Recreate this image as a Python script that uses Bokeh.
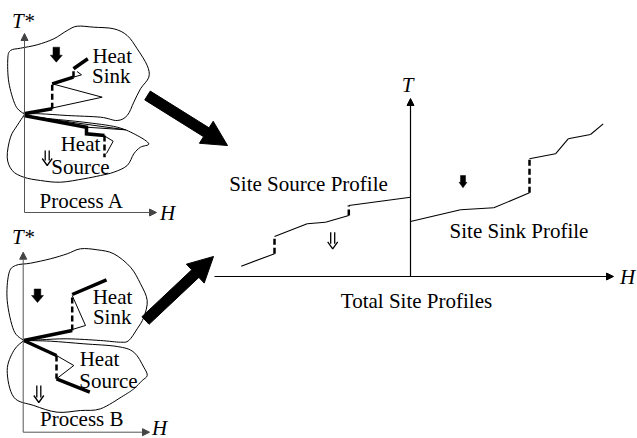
import numpy as np
from bokeh.plotting import figure
from bokeh.models import Range1d, Arrow, NormalHead
from bokeh.core.properties import value
from bokeh.embed import file_html
from bokeh.resources import INLINE

# ---------------- data (diagram coordinates, page pixels) ----------------
# Process A : heat sink / heat source outlines
blobA_sink = [(23.3, 113.3), (15, 105), (8.3, 81.7), (7.3, 58.3), (10, 50), (20, 47.7), (36.7, 44.3),
              (53.3, 38.3), (66.7, 30), (76.7, 25.7), (93.3, 26.7), (113.3, 28.3), (126.7, 35),
              (136.7, 48.3), (146.7, 65), (148.3, 76.7), (140, 88.3), (133.3, 101.7), (126.7, 115),
              (116.7, 120), (100, 116.7), (66.7, 115), (40, 113.3), (23.3, 113.3)]
blobA_src = [(23.3, 115), (50, 118.3), (83.3, 121.7), (116.7, 126.7), (136.7, 135), (148.3, 143.3),
             (140, 146.7), (133.3, 153.3), (126.7, 165), (113.3, 171.7), (100, 175), (83.3, 178.3),
             (60, 181.7), (40, 180), (23.3, 176.7), (11.7, 170), (6.7, 156.7), (10, 136.7),
             (16.7, 125), (23.3, 115)]
# Process B outlines
blobB_sink = [(23.3, 340), (13.3, 330), (6.7, 300), (8.3, 273.3), (15, 265), (30, 262.7), (50, 258.3),
              (66.7, 253.3), (80, 248.3), (96.7, 249.3), (113.3, 253.3), (130, 266.7), (140, 283.3),
              (146.7, 300), (143.3, 316.7), (136.7, 328.3), (128.3, 340), (120, 341.7), (100, 340),
              (66.7, 338.3), (40, 339.3), (23.3, 340)]
blobB_src = [(23.3, 340), (50, 340.7), (83.3, 343.3), (116.7, 346), (133.3, 351.7), (143.3, 366.7),
             (146.7, 375), (141.7, 380), (133.3, 388.3), (123.3, 395), (100, 408.3), (80, 410),
             (56.7, 411.7), (33.3, 405), (13.3, 396.7), (6.7, 370), (13.3, 350), (23.3, 340)]

# thick profile pieces
thick_x = [[23.3, 51.7], [51.7, 73, 73], [73, 87.3],
           [23.3, 86, 86, 104],
           [23.3, 71.7], [71.7, 106],
           [23.3, 56], [56, 89.3]]
thick_y = [[113.3, 108.3], [83.3, 76.7, 76.7], [68.3, 58.3],
           [115, 126.7, 133.3, 135],
           [340, 330], [294, 279.3],
           [340, 355], [378.3, 391.7]]
# dashed vertical steps (left)
dash_x = [[51.7, 51.7], [73, 73], [104, 104], [71.7, 71.7], [56, 56]]
dash_y = [[108.3, 83.3], [76.7, 68.3], [135, 156.7], [330, 294], [355, 378.3]]
# thin pocket lines (left)
thin_x = [[51.7, 101.7, 25], [73, 81, 76.5], [23.3, 125, 86], [104, 112.7, 106],
          [71.7, 85, 71.7], [56, 73.3, 56]]
thin_y = [[83.3, 96.7, 113.3], [76.7, 74.3, 71], [115, 129.3, 126.7], [135.5, 140.7, 153],
          [295, 325, 329], [355, 365, 378.3]]

# Total site profiles
src_x = [240.7, 274, 274, 306.7, 325, 348.3, 348.3, 410]
src_y = [265.7, 253.3, 236, 223.3, 221.7, 215, 205, 196.7]
snk_x = [410, 460, 493.3, 529, 529, 555, 567.7, 590, 602.7]
snk_y = [221, 209.3, 207.3, 192.3, 158.3, 153.3, 138.3, 134, 123.3]

# axes: (x_start, y_start, x_end, y_end)
axes_left = [(24, 212, 24, 33), (24, 212, 156, 212),
             (22.7, 431.7, 22.7, 251.7), (22.7, 431.7, 149, 431.7)]
axes_right = [(410, 276, 410, 98), (214, 276, 613, 276)]

# big arrows (tail -> tip)
big_tail = [(147, 95), (145, 320)]
big_tip = [(227, 145), (213, 256)]

# small block arrows: (cx, top, bottom, shaft half, head half, head len)
block_arrows = [(55.8, 46.7, 61.7, 3.3, 6, 7), (37, 288.5, 302, 3.3, 6, 7), (462.5, 175, 187.3, 2.5, 4, 5.5)]
# double arrows (cx, top, bottom)
dbl_arrows = [(46.7, 150, 165), (38.3, 385, 402), (332.2, 231.7, 248.3)]

labels_txt = ["Heat", "Sink", "Heat", "Source", "Process A",
              "Heat", "Sink", "Heat", "Source", "Process B",
              "Site Source Profile", "Site Sink Profile", "Total Site Profiles"]
labels_x = [111.7, 110.8, 80, 80, 81.3, 112, 111.7, 99, 108, 81.3, 308, 518.5, 416]
labels_y = [55, 75, 143.3, 166.7, 200, 296.7, 316.7, 358.3, 380, 418.3, 183, 230, 300]

ital_txt = ["T*", "H", "T*", "H", "T", "H"]
ital_x = [22.5, 167, 22.5, 159, 407, 627]
ital_y = [20, 212, 236, 427, 84, 276.7]

# ---------------- figure ----------------
p = figure(width=637, height=438, x_range=Range1d(0, 637), y_range=Range1d(438, 0),
           output_backend="svg", toolbar_location=None,
           x_axis_location=None, y_axis_location=None, min_border=0)
p.grid.visible = False
p.outline_line_color = None
p.background_fill_color = "white"


def smooth(pts):
    P = np.array(pts, dtype=float)
    n = len(P)
    ext = np.vstack([P[0], P, P[-1]])
    c0 = ext[1:n] + (ext[2:n + 1] - ext[0:n - 1]) / 6.0
    c1 = ext[2:n + 1] - (ext[3:n + 2] - ext[1:n]) / 6.0
    return dict(x0=P[:-1, 0], y0=P[:-1, 1], x1=P[1:, 0], y1=P[1:, 1],
                cx0=c0[:, 0], cy0=c0[:, 1], cx1=c1[:, 0], cy1=c1[:, 1])


for blob in (blobA_sink, blobA_src, blobB_sink, blobB_src):
    b = smooth(blob)
    p.bezier(x0=b["x0"], y0=b["y0"], x1=b["x1"], y1=b["y1"], cx0=b["cx0"], cy0=b["cy0"],
             cx1=b["cx1"], cy1=b["cy1"], line_color="black", line_width=1)

# left axes
for (xs, ys, xe, ye) in axes_left:
    p.add_layout(Arrow(end=NormalHead(size=7, fill_color="#444", line_color="#444"),
                       x_start=xs, y_start=ys, x_end=xe, y_end=ye, line_color="#555", line_width=1))
for (xs, ys, xe, ye) in axes_right:
    p.add_layout(Arrow(end=NormalHead(size=7, fill_color="black", line_color="black"),
                       x_start=xs, y_start=ys, x_end=xe, y_end=ye, line_color="black", line_width=1.2))

# profile lines, left
p.multi_line(thin_x, thin_y, line_color="black", line_width=1)
p.multi_line(thick_x, thick_y, line_color="black", line_width=3.5, line_join="miter")
p.multi_line(dash_x, dash_y, line_color="black", line_width=2.5, line_dash="6 3")


def split(xs, ys):
    sol_x, sol_y, das_x, das_y = [], [], [], []
    for i in range(len(xs) - 1):
        seg_x, seg_y = [xs[i], xs[i + 1]], [ys[i], ys[i + 1]]
        if xs[i] == xs[i + 1]:
            das_x.append(seg_x); das_y.append(seg_y)
        else:
            sol_x.append(seg_x); sol_y.append(seg_y)
    return sol_x, sol_y, das_x, das_y


for xs, ys in ((src_x, src_y), (snk_x, snk_y)):
    sx, sy, dx, dy = split(xs, ys)
    p.multi_line(sx, sy, line_color="black", line_width=1.1)
    p.multi_line(dx, dy, line_color="black", line_width=2.5, line_dash="6 3")

# big arrows
bx, by = [], []
for (t, e) in zip(big_tail, big_tip):
    T = np.array(t, float); E = np.array(e, float)
    u = (E - T) / np.linalg.norm(E - T)
    nrm = np.array([-u[1], u[0]])
    sw, hw, hl = 5.2, 13, 25
    base = E - u * hl
    pts = [T + nrm * sw, base + nrm * sw, base + nrm * hw, E, base - nrm * hw, base - nrm * sw, T - nrm * sw]
    bx.append([q[0] for q in pts]); by.append([q[1] for q in pts])
p.patches(bx, by, fill_color="black", line_color="black", line_width=1)

# small block arrows
sx_, sy_ = [], []
for (cx, t, b, sw, hw, hl) in block_arrows:
    sx_.append([cx - sw, cx + sw, cx + sw, cx + hw, cx, cx - hw, cx - sw])
    sy_.append([t, t, b - hl, b - hl, b, b - hl, b - hl])
p.patches(sx_, sy_, fill_color="black", line_color="black", line_width=0.5)

# double arrows
dxs, dys = [], []
for (cx, t, b) in dbl_arrows:
    dxs += [[cx - 2, cx - 2], [cx + 2, cx + 2], [cx - 5, cx, cx + 5]]
    dys += [[t, b - 5], [t, b - 5], [b - 7, b, b - 7]]
p.multi_line(dxs, dys, line_color="black", line_width=1.3)

# texts
p.text(x=labels_x, y=labels_y, text=labels_txt, text_font=value("Liberation Serif"),
       text_font_size="21px", text_align="center", text_baseline="middle", text_color="black")
p.text(x=ital_x, y=ital_y, text=ital_txt, text_font=value("Liberation Serif"),
       text_font_style="italic", text_font_size="21px", text_align="center",
       text_baseline="middle", text_color="black")

open("out.html", "w").write(file_html(p, INLINE))
